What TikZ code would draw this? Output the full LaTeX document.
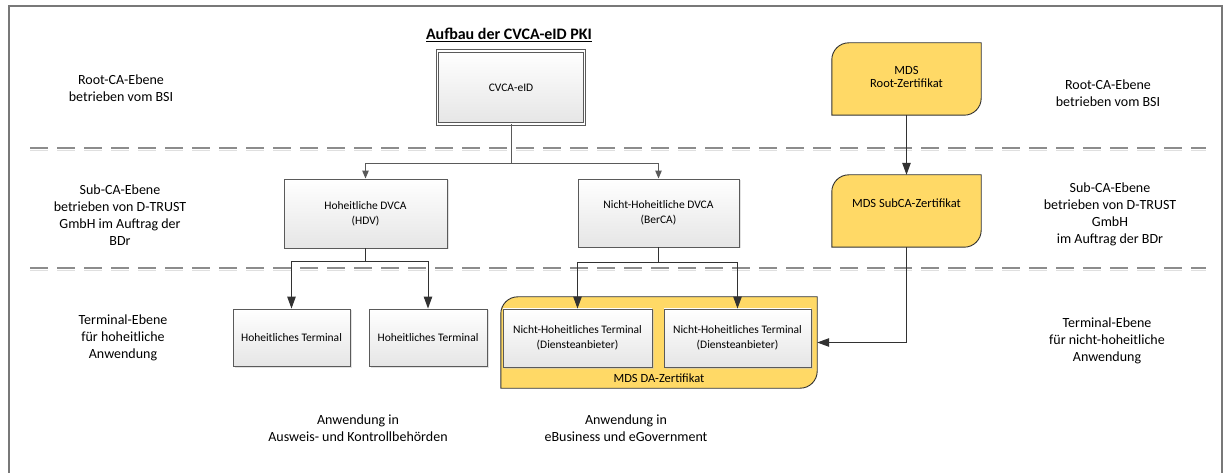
\documentclass[tikz,border=0pt]{standalone}
\usepackage{fontspec}
\setmainfont{Carlito}
\usetikzlibrary{arrows.meta,shadows}
\definecolor{ylw}{RGB}{255,217,102}
\definecolor{lin}{RGB}{50,50,50}
\definecolor{lin2}{RGB}{90,90,90}
\definecolor{dsh}{RGB}{140,140,140}
\definecolor{frm}{RGB}{120,120,120}
\newcommand\ycshape[1]{\draw[yshape] (#1.south west) -- ([yshift=-17pt]#1.north west) arc[start angle=180,end angle=90,radius=17pt] -- (#1.north east) -- ([yshift=17pt]#1.south east) arc[start angle=0,end angle=-90,radius=17pt] -- cycle;}
\begin{document}
\begin{tikzpicture}[x=1pt,y=1pt,
  gbox/.style={draw=lin2, line width=0.9pt, top color=white, bottom color=gray!20, align=center,
    font=\fontsize{11.5}{15}\selectfont, inner sep=0pt,
    drop shadow={shadow xshift=1.5pt, shadow yshift=-1.5pt, fill=gray!45, opacity=0.5}},
  ghost/.style={draw=none, inner sep=0pt},
  yshape/.style={draw=lin, line width=0.9pt, fill=ylw},
  yfont/.style={align=center, font=\fontsize{12.5}{13}\selectfont},
  lab/.style={align=center, font=\fontsize{14}{17}\selectfont},
  conn/.style={draw=lin, line width=1pt, -{Triangle[length=12pt,width=8.5pt]}},
  connA/.style={draw=lin2, line width=1pt, -{Triangle[length=8pt,width=6.5pt]}},
  dline/.style={draw=dsh, line width=1.8pt, dash pattern=on 18pt off 9pt},
  dshadow/.style={draw=gray!25, line width=1.8pt, dash pattern=on 18pt off 9pt},
]
\useasboundingbox (0,0) rectangle (1227,-473);
% frame
\draw[frm, line width=1.5pt] (9,-474) -- (9,-6) -- (1222,-6) -- (1222,-474);
% dashed separators
\draw[dshadow] (30,-150.5) -- (1206,-150.5);
\draw[dline] (30,-148) -- (1206,-148);
\draw[dshadow] (30,-270.5) -- (1206,-270.5);
\draw[dline] (30,-268) -- (1206,-268);

% title
\node[anchor=base, font=\fontsize{16}{18}\selectfont\bfseries] (title) at (509,-40) {\underline{Aufbau der CVCA-eID PKI}};

% CVCA
\node[gbox, double=white, double distance=1.6pt, line width=0.8pt, minimum width=147pt, minimum height=73pt] (cvca) at (511,-87.5) {CVCA-eID};

% DVCAs
\node[gbox, minimum width=163pt, minimum height=69pt] (hdv) at (365.5,-213.5) {Hoheitliche DVCA\\(HDV)};
\node[gbox, minimum width=161pt, minimum height=68pt] (berca) at (658.5,-213) {Nicht-Hoheitliche DVCA\\(BerCA)};

% terminals
\node[gbox, minimum width=117pt, minimum height=57pt] (t1) at (291.5,-337.5) {Hoheitliches Terminal};
\node[gbox, minimum width=118pt, minimum height=57pt] (t2) at (428,-337.5) {Hoheitliches Terminal};

% MDS DA container
\node[ghost, minimum width=316pt, minimum height=91pt] (da) at (659,-342.5) {};
\ycshape{da}
\node[yfont] (dalab) at (659,-378) {MDS DA-Zertifikat};
\node[gbox, minimum width=149pt, minimum height=58pt] (nh1) at (577.5,-338) {Nicht-Hoheitliches Terminal\\(Diensteanbieter)};
\node[gbox, minimum width=147pt, minimum height=58pt] (nh2) at (737.5,-338) {Nicht-Hoheitliches Terminal\\(Diensteanbieter)};

% MDS root / sub
\node[ghost, minimum width=149pt, minimum height=72pt] (mdsroot) at (906.5,-79) {};
\ycshape{mdsroot}
\node[yfont] (mdsrootlab) at (906.5,-76.5) {MDS\\Root-Zertifikat};
\node[ghost, minimum width=149pt, minimum height=72pt] (mdssub) at (906.5,-211) {};
\ycshape{mdssub}
\node[yfont] (mdssublab) at (906.5,-203) {MDS SubCA-Zertifikat};

% connectors
\coordinate (j1) at (511,-164);
\draw[connA] (cvca.south) -- (j1) -| (hdv.north);
\draw[connA] (j1) -| (berca.north);
\coordinate (j2) at (365.5,-262);
\draw[conn] (hdv.south) -- (j2) -| (t1.north);
\draw[conn] (j2) -| (t2.north);
\coordinate (j3) at (658.5,-263);
\draw[conn] (berca.south) -- (j3) -| (nh1.north);
\draw[conn] (j3) -| (nh2.north);
\draw[conn] (mdsroot.south) -- (mdssub.north);
\draw[conn] (mdssub.south) |- (da.east);

% level labels left
\node[lab] (l1) at (121,-88.5) {Root-CA-Ebene\\betrieben vom BSI};
\node[lab] (l2) at (120,-215) {Sub-CA-Ebene\\betrieben von D-TRUST\\GmbH im Auftrag der\\BDr};
\node[lab] (l3) at (123,-338) {Terminal-Ebene\\für hoheitliche\\Anwendung};
% level labels right
\node[lab] (r1) at (1108,-93) {Root-CA-Ebene\\betrieben vom BSI};
\node[lab] (r2) at (1110,-214.5) {Sub-CA-Ebene\\betrieben von D-TRUST\\GmbH\\im Auftrag der BDr};
\node[lab] (r3) at (1107,-340.5) {Terminal-Ebene\\für nicht-hoheitliche\\Anwendung};
% bottom labels
\node[lab] (b1) at (358,-428.5) {Anwendung in\\Ausweis- und Kontrollbehörden};
\node[lab] (b2) at (626,-428.5) {Anwendung in\\eBusiness und eGovernment};
\end{tikzpicture}
\end{document}
